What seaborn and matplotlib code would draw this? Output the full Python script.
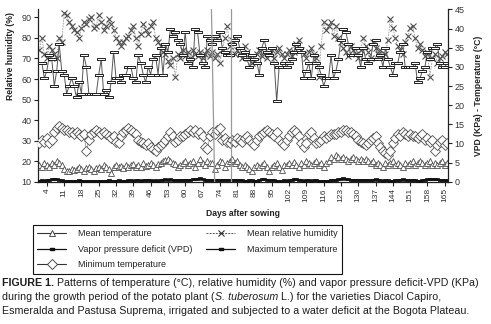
import matplotlib
matplotlib.use("Agg")
import matplotlib.pyplot as plt
import seaborn as sns
import pandas as pd
from matplotlib.lines import Line2D

# ---------------- data ----------------
days = list(range(1, 167))

mean_rh = [74, 80, 72, 70, 76, 74, 72, 70, 80, 78,
           92, 91, 88, 86, 84, 83, 80, 85, 88, 87,
           89, 90, 85, 86, 91, 88, 84, 86, 89, 87,
           84, 80, 78, 76, 78, 80, 81, 84, 86, 80,
           76, 82, 87, 84, 82, 86, 88, 80, 78, 76,
           73, 72, 69, 67, 70, 61, 72, 70, 74, 71,
           73, 70, 74, 72, 71, 73, 70, 72, 74, 71,
           73, 70, 72, 68, 74, 80, 86, 76, 79, 72,
           74, 72, 70, 76, 73, 70, 68, 69, 72, 74,
           71, 73, 70, 72, 74, 70, 73, 75, 72, 70,
           72, 74, 71, 73, 77, 79, 74, 72, 70, 73,
           75, 72, 70, 61, 76, 88, 84, 86, 88, 81,
           86, 80, 78, 75, 73, 71, 76, 74, 72, 70,
           74, 80, 76, 73, 70, 78, 75, 72, 74, 71,
           72, 79, 89, 85, 80, 76, 74, 72, 78, 81,
           85, 86, 80, 75, 77, 74, 71, 73, 61, 70,
           72, 68, 70, 71, 73, 72]

max_temp = [31, 31, 27, 29, 33, 32, 25, 29, 36, 29,
            28, 23, 25, 27, 25, 22, 26, 23, 33, 30,
            23, 23, 23, 23, 28, 32, 23, 24, 22, 26,
            34, 27, 27, 26, 28, 28, 30, 30, 27, 26,
            33, 31, 28, 26, 30, 28, 32, 33, 28, 35,
            28, 36, 34, 40, 38, 39, 37, 36, 33, 39,
            31, 32, 30, 40, 39, 33, 31, 30, 38, 37,
            36, 38, 37, 39, 35, 34, 33, 33, 36, 37,
            38, 35, 33, 34, 32, 30, 33, 32, 31, 28,
            35, 37, 34, 33, 35, 31, 21, 30, 30, 31,
            30, 31, 32, 34, 36, 35, 34, 27, 29, 31,
            27, 33, 31, 30, 28, 25, 27, 27, 33, 27,
            29, 32, 37, 40, 39, 36, 33, 33, 35, 33,
            30, 35, 32, 31, 32, 36, 37, 32, 33, 30,
            35, 32, 30, 28, 31, 31, 34, 36, 30, 30,
            30, 30, 31, 26, 27, 29, 30, 34, 32, 35,
            35, 36, 31, 30, 30, 31]

min_temp = [10, 11, 10.5, 11.5, 10, 11, 13, 14, 14.5, 14,
            13.5, 13.5, 13, 13, 12.5, 13, 12.5, 12, 12.5, 8,
            11, 12.5, 13, 13.5, 13, 12.5, 13, 12.5, 12, 11.5,
            12, 10.5, 10, 12, 13, 13.5, 14, 13.5, 13, 12.5,
            11, 10.5, 10, 9.5, 10, 9, 8.5, 8, 9, 9.5,
            10, 11, 12, 13, 12, 10.5, 11, 12, 12, 12.5,
            13, 13.5, 13, 13.5, 12.5, 13, 12, 9, 8.5, 12,
            13, 12.5, 13.5, 14, 11, 11.5, 10.5, 10, 11, 10.5,
            11.5, 11, 10.5, 11.5, 12, 11, 10, 9.5, 11, 12,
            12.5, 13, 13.5, 13, 12.5, 12, 13, 11, 10, 9.5,
            11, 12, 13, 13.5, 13, 12, 10, 9, 10, 12.5,
            13, 11.5, 10, 10.5, 11, 12, 11.5, 12, 12.5, 12.5,
            12.5, 13, 13, 13.5, 13.5, 13, 13, 12.5, 12, 11,
            10.5, 10, 9.5, 10, 11, 11.5, 12, 10, 9, 8,
            7.5, 7, 8, 10, 11.5, 12.5, 12, 13, 12.5, 12,
            12.5, 12, 12, 11.5, 12, 12.5, 11, 11.5, 10.5, 11,
            8, 9.5, 10.5, 11, 9.5, 10]

mean_temp = [18, 17, 19, 18, 17, 19, 18, 20, 19, 18,
             16, 15, 15, 16, 15.5, 16, 17, 16, 15, 16.5,
             17, 16, 15, 16.5, 17, 16, 18, 17, 16, 14.5,
             17, 18, 17, 17.5, 16.5, 18, 17, 18, 18.5, 17,
             18, 17, 19, 17.5, 18, 19, 18, 17, 18.5, 19,
             20, 20.5, 21, 20, 19, 18.5, 17, 18, 19, 20,
             18, 19, 20, 17, 19, 21, 19, 18, 20, 19,
             19, 16, 18, 20, 19.5, 17, 19, 20, 21, 19,
             20, 18, 17, 18, 17, 16, 15, 17, 18, 17,
             18, 19, 17, 15, 17, 18, 19, 17, 15.5, 18,
             18, 19, 18, 19.5, 18, 17, 19, 18, 20, 19,
             18, 19, 20, 18, 19, 17, 19, 20, 22, 21,
             23, 22, 21, 22, 21, 20, 21, 22, 21, 20,
             21, 20, 21, 20, 19, 20, 18, 19, 18, 17,
             19, 18, 19, 20, 18, 19, 18, 17, 19, 18,
             19, 20, 18, 19, 20, 19, 18, 19, 20, 18,
             19, 18, 19, 20, 18, 19]

vpd = [0.3, 0.4, 0.3, 0.5, 0.4, 0.6, 0.8, 0.7, 0.5, 0.4,
       0.2, 0.2, 0.3, 0.3, 0.2, 0.3, 0.4, 0.3, 0.2, 0.3,
       0.2, 0.2, 0.3, 0.2, 0.3, 0.3, 0.2, 0.3, 0.4, 0.3,
       0.3, 0.3, 0.4, 0.3, 0.3, 0.3, 0.4, 0.4, 0.3, 0.4,
       0.4, 0.3, 0.4, 0.4, 0.5, 0.4, 0.3, 0.4, 0.3, 0.5,
       0.5, 0.6, 0.5, 0.6, 0.5, 0.4, 0.5, 0.5, 0.4, 0.5,
       0.5, 0.5, 0.6, 0.7, 0.8, 0.9, 0.7, 0.5, 0.5, 0.5,
       0.4, 0.5, 0.5, 0.4, 0.5, 0.4, 0.4, 0.5, 0.5, 0.4,
       0.5, 0.4, 0.4, 0.3, 0.3, 0.4, 0.4, 0.3, 0.3, 0.5,
       0.6, 0.7, 0.5, 0.4, 0.5, 0.4, 0.2, 0.3, 0.3, 0.4,
       0.3, 0.4, 0.5, 0.7, 0.6, 0.5, 0.4, 0.3, 0.4, 0.4,
       0.3, 0.4, 0.4, 0.3, 0.3, 0.2, 0.3, 0.3, 0.5, 0.4,
       0.5, 0.6, 0.8, 0.9, 0.7, 0.6, 0.5, 0.5, 0.5, 0.4,
       0.4, 0.5, 0.4, 0.4, 0.4, 0.5, 0.6, 0.4, 0.4, 0.3,
       0.5, 0.4, 0.3, 0.3, 0.4, 0.4, 0.5, 0.6, 0.4, 0.4,
       0.4, 0.4, 0.4, 0.3, 0.3, 0.4, 0.4, 0.6, 0.8, 0.6,
       0.6, 0.7, 0.4, 0.4, 0.4, 0.4]

guide_days = [(70.6, 71.9), (78.5, 78.5)]   # the two vertical reference lines (top, bottom)

xtick_days = list(range(4, 166, 7))
left_ticks = [10, 20, 30, 40, 50, 60, 70, 80, 90]
right_ticks = [0, 5, 10, 15, 20, 25, 30, 35, 40, 45]

series_labels = ["Mean temperature", "Vapor pressure deficit (VPD)", "Minimum temperature",
                 "Mean relative humidity", "Maximum temperature"]

x_label = "Days after sowing"
y_label_left = "Relative humidity (%)"
y_label_right = "VPD (KPa) - Temperature (°C)"

caption = [
    [("FIGURE 1.", "normal", "bold"),
     (" Patterns of temperature (°C), relative humidity (%) and vapor pressure deficit-VPD (KPa)", "normal", "normal")],
    [("during the growth period of the potato plant (", "normal", "normal"),
     ("S. tuberosum", "italic", "normal"),
     (" L.) for the varieties Diacol Capiro,", "normal", "normal")],
    [("Esmeralda and Pastusa Suprema, irrigated and subjected to a water deficit at the Bogota Plateau.", "normal", "normal")],
]

for arr in (mean_rh, max_temp, min_temp, mean_temp, vpd):
    assert len(arr) == len(days), len(arr)

df = pd.DataFrame({"day": days, "rh": mean_rh, "tmax": max_temp, "tmin": min_temp,
                   "tmean": mean_temp, "vpd": vpd})

# ---------------- style ----------------
sns.set_theme(style="white")
plt.rcParams["font.family"] = ["Liberation Sans", "DejaVu Sans"]
fs_tick = 6.0
fs_lab = 6.2
fs_leg = 6.5
fs_cap = 7.7

rect_marker = [(-1, -0.38), (1, -0.38), (1, 0.38), (-1, 0.38), (-1, -0.38)]

fig = plt.figure(figsize=(4.91, 3.24), dpi=100)
ax = fig.add_axes([0.0768, 0.439, 0.836, 0.532])
ax2 = ax.twinx()

line_grey = "#999999"
mark_grey = "#505050"

sns.lineplot(data=df, x="day", y="rh", ax=ax, color=line_grey, lw=0.6,
             linestyle=(0, (2, 1.2)), marker="x", markersize=4.8,
             markeredgecolor=mark_grey, markeredgewidth=0.8)
sns.lineplot(data=df, x="day", y="tmean", ax=ax, color=line_grey, lw=0.6,
             marker="^", markersize=4.2, markerfacecolor="white",
             markeredgecolor=mark_grey, markeredgewidth=0.6)
sns.lineplot(data=df, x="day", y="tmin", ax=ax2, color=line_grey, lw=0.6,
             marker="D", markersize=4.6, markerfacecolor="white",
             markeredgecolor=mark_grey, markeredgewidth=0.6)
sns.lineplot(data=df, x="day", y="tmax", ax=ax2, color="#555555", lw=0.7,
             marker=rect_marker, markersize=5.4, markerfacecolor="white",
             markeredgecolor="#222222", markeredgewidth=0.7)
sns.lineplot(data=df, x="day", y="vpd", ax=ax2, color="#111111", lw=0.9,
             marker=rect_marker, markersize=3.2, markerfacecolor="#111111",
             markeredgecolor="#111111", markeredgewidth=0.5)

for top, bottom in guide_days:
    ax2.plot([top, bottom], [45, 0], color="#9a9a9a", lw=0.9, zorder=5)

ax.set_xlim(0.3, 166.4)
ax.set_ylim(10, 93.9)
ax2.set_ylim(0, 45)

ax.set_xticks(xtick_days)
ax.set_xticklabels([str(d) for d in xtick_days], rotation=90, fontsize=fs_tick, color="#333333")
ax.set_yticks(left_ticks)
ax.set_yticklabels([str(v) for v in left_ticks], fontsize=fs_tick + 0.5, color="#333333")
ax2.set_yticks(right_ticks)
ax2.set_yticklabels([str(v) for v in right_ticks], fontsize=fs_tick + 0.5, color="#333333")

for a in (ax, ax2):
    a.tick_params(axis="both", which="both", direction="out", length=3, width=0.8,
                  color="#222222", pad=1.5)
    a.spines["top"].set_visible(False)
    for s in ("left", "right", "bottom"):
        a.spines[s].set_color("#222222")
        a.spines[s].set_linewidth(0.9)
ax.spines["right"].set_visible(False)
ax2.spines["left"].set_visible(False)
ax2.spines["bottom"].set_visible(False)
ax.tick_params(axis="y", right=False)
ax.tick_params(axis="x", bottom=True)

ax.set_xlabel(x_label, fontsize=fs_lab, fontweight="bold", color="#222222", labelpad=5)
ax.set_ylabel(y_label_left, fontsize=fs_lab, fontweight="bold", color="#222222")
ax.yaxis.set_label_coords(-0.055, 0.73)
ax2.set_ylabel(y_label_right, fontsize=fs_lab, fontweight="bold", color="#222222", labelpad=7)
ax.grid(False)
ax2.grid(False)

# ---------------- legend ----------------
handles = [
    Line2D([], [], color="#333333", lw=0.8, marker="^", markersize=4.2,
           markerfacecolor="white", markeredgecolor="#333333", markeredgewidth=0.6),
    Line2D([], [], color="#111111", lw=0.9, marker=rect_marker, markersize=3.2,
           markerfacecolor="#111111", markeredgecolor="#111111"),
    Line2D([], [], color="#333333", lw=0.8, marker="D", markersize=4.6,
           markerfacecolor="white", markeredgecolor="#333333", markeredgewidth=0.6),
    Line2D([], [], color="#555555", lw=0.7, linestyle=(0, (2, 1.2)), marker="x", markersize=4.8,
           markeredgecolor="#333333", markeredgewidth=0.8),
    Line2D([], [], color="#111111", lw=0.9, marker=rect_marker, markersize=3.2,
           markerfacecolor="#111111", markeredgecolor="#111111"),
]
leg = fig.legend(handles, series_labels, ncol=2, loc="center",
                 bbox_to_anchor=(0.067, 0.161, 0.63, 0.139), mode="expand",
                 fontsize=fs_leg, frameon=True, fancybox=False, edgecolor="#111111",
                 framealpha=1, handlelength=3.2, handletextpad=1.3, labelspacing=0.72,
                 borderpad=0.5, columnspacing=1.0, borderaxespad=0)
leg.get_frame().set_linewidth(0.8)
for t in leg.get_texts():
    t.set_color("#222222")

# ---------------- caption ----------------
fig.canvas.draw()
renderer = fig.canvas.get_renderer()
W = fig.bbox.width
y_lines = [1 - 283.5 / 324, 1 - 297.5 / 324, 1 - 311.5 / 324]
for yl, parts in zip(y_lines, caption):
    x = 2.5 / W
    for txt, style, weight in parts:
        t = fig.text(x, yl, txt, fontsize=fs_cap, fontstyle=style, fontweight=weight,
                     ha="left", va="center", color="#1e1e1e")
        bb = t.get_window_extent(renderer)
        x = bb.x1 / W

fig.savefig("out.png", dpi=100)
